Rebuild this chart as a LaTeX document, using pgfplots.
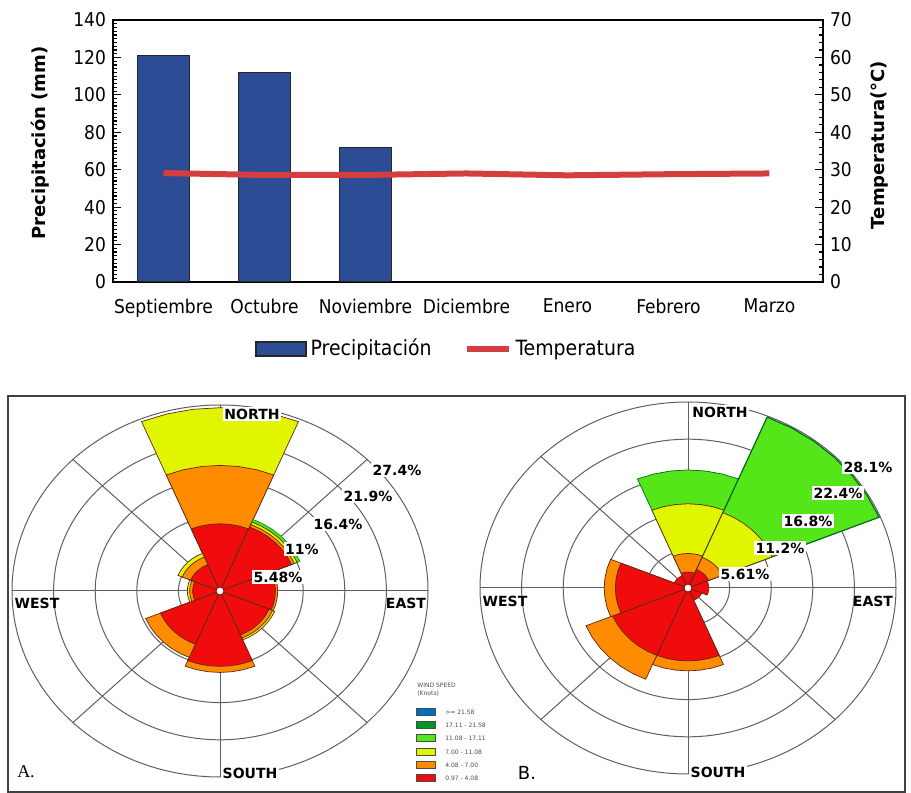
\documentclass[border=0pt]{standalone}
\usepackage{fontspec}
\setmainfont{DejaVu Sans}
\newfontfamily\cond{DejaVu Sans Condensed}
\newfontfamily\serifA{Liberation Serif}
\usepackage{pgfplots}
\pgfplotsset{compat=1.18}
\usepgfplotslibrary{polar}
\definecolor{barblue}{RGB}{44,77,150}
\definecolor{tempred}{RGB}{212,62,62}
\definecolor{wrred}{RGB}{240,12,12}
\definecolor{wrorange}{RGB}{255,140,0}
\definecolor{wryellow}{RGB}{225,245,0}
\definecolor{wrgreen}{RGB}{85,230,25}
\definecolor{wrdgreen}{RGB}{0,150,40}
\definecolor{wrblue}{RGB}{0,110,190}
\definecolor{edgec}{RGB}{95,40,20}
\definecolor{gridc}{RGB}{95,95,95}
\begin{document}
\begin{tikzpicture}[x=1pt,y=1pt]
\useasboundingbox (0,0) rectangle (455.5,396.5);

% ---------------- top chart ----------------
\begin{axis}[
  at={(56.5pt,255.5pt)}, anchor=south west, scale only axis,
  width=355pt, height=131pt,
  xmin=-0.5, xmax=6.53, ymin=0, ymax=140,
  ytick={0,20,...,140}, minor y tick num=9, ytick pos=left,
  xtick={0,...,6},
  xticklabels={Septiembre,Octubre,Noviembre,Diciembre,Enero,Febrero,Marzo},
  x tick style={draw=none},
  tick align=inside, major tick length=4pt, minor tick length=2pt,
  y tick style={black, line width=0.6pt},
  axis line style={line width=0.8pt},
  /pgf/number format/assume math mode=true,
  ticklabel style={font=\cond\fontsize{9.5}{11}\selectfont},
  xticklabel style={yshift=-5pt},
  ylabel={\bfseries Precipitación (mm)},
  ylabel style={font=\fontsize{9}{10}\selectfont, at={(axis description cs:-0.103,0.53)}, anchor=center},
  legend style={at={(0.471,-0.256)}, anchor=center, draw=none, legend columns=2,
    font=\cond\fontsize{10.5}{12}\selectfont,
    /tikz/every even column/.append style={column sep=14pt}},
]
\addplot[ybar, bar width=0.51, fill=barblue, draw=black!85, line width=0.6pt,
  legend image code/.code={\draw[fill=barblue,draw=black!85] (0pt,-3.5pt) rectangle (25pt,3.5pt);}]
  coordinates {(0,121) (1,112) (2,72)};
\addlegendentry{Precipitación}
\addlegendimage{legend image code/.code={\draw[tempred, line width=3pt] (0pt,0pt) -- (21pt,0pt);}}
\addlegendentry{Temperatura}
\end{axis}
\begin{axis}[
  at={(56.5pt,255.5pt)}, anchor=south west, scale only axis,
  width=355pt, height=131pt,
  xmin=-0.5, xmax=6.53, ymin=0, ymax=70,
  axis x line=none, axis y line*=right,
  ytick={0,10,...,70}, minor y tick num=4,
  tick align=inside, major tick length=4pt, minor tick length=2pt,
  y tick style={black, line width=0.6pt},
  axis line style={line width=0.8pt},
  /pgf/number format/assume math mode=true,
  ticklabel style={font=\cond\fontsize{9.5}{11}\selectfont},
  ylabel={\bfseries Temperatura(°C)},
  ylabel style={font=\fontsize{9}{10}\selectfont, at={(axis description cs:1.08,0.523)}, anchor=center, rotate=0},
]
\addplot[tempred, line width=3pt] coordinates {(0,29.1) (1,28.6) (2,28.6) (3,29.0) (4,28.5) (5,28.8) (6,29.0)};
\end{axis}

% ---------------- bottom frame ----------------
\draw[black!75, line width=1pt] (4,0.5) rectangle (452.5,198.5);

% grids of the two roses
\foreach \cx/\cy in {110/101, 344/102.5}{
  \foreach \k in {1,...,5}{
    \draw[gridc, line width=0.5pt] (\cx,\cy) ellipse [x radius=20.8*\k, y radius=18.6*\k];
  }
  \draw[gridc, line width=0.5pt] (\cx-104,\cy) -- (\cx+104,\cy);
  \draw[gridc, line width=0.5pt] (\cx,\cy-93) -- (\cx,\cy+93);
  \draw[gridc, line width=0.5pt] (\cx-73.54,\cy-65.76) -- (\cx+73.54,\cy+65.76);
  \draw[gridc, line width=0.5pt] (\cx-73.54,\cy+65.76) -- (\cx+73.54,\cy-65.76);
}

% ---------------- rose A ----------------
\begin{axis}[at={(110pt,101pt)}, anchor=center, x=3.7956pt, y=3.3942pt,
  hide axis, xmin=-28, xmax=28, ymin=-28, ymax=28, clip=false,
  every axis plot/.append style={data cs=polar, draw=edgec, line width=0.35pt}]
% N
\addplot[fill=wryellow] coordinates {(0,0) (67.5,27) (75,27) (82.5,27) (90,27) (97.5,27) (105,27) (112.5,27) (0,0)};
\addplot[fill=wrorange] coordinates {(0,0) (67.5,18.5) (75,18.5) (82.5,18.5) (90,18.5) (97.5,18.5) (105,18.5) (112.5,18.5) (0,0)};
\addplot[fill=wrred] coordinates {(0,0) (67.5,9.9) (75,9.9) (82.5,9.9) (90,9.9) (97.5,9.9) (105,9.9) (112.5,9.9) (0,0)};
% NE
\addplot[fill=wrgreen, draw=wrdgreen] coordinates {(0,0) (22.5,11.4) (30,11.4) (37.5,11.4) (45,11.4) (52.5,11.4) (60,11.4) (67.5,11.4) (0,0)};
\addplot[fill=wryellow] coordinates {(0,0) (22.5,11.0) (30,11.0) (37.5,11.0) (45,11.0) (52.5,11.0) (60,11.0) (67.5,11.0) (0,0)};
\addplot[fill=wrorange] coordinates {(0,0) (22.5,10.6) (30,10.6) (37.5,10.6) (45,10.6) (52.5,10.6) (60,10.6) (67.5,10.6) (0,0)};
\addplot[fill=wrred] coordinates {(0,0) (22.5,10.2) (30,10.2) (37.5,10.2) (45,10.2) (52.5,10.2) (60,10.2) (67.5,10.2) (0,0)};
% E
\addplot[fill=wrorange] coordinates {(0,0) (-22.5,7.6) (-15,7.6) (-7.5,7.6) (0,7.6) (7.5,7.6) (15,7.6) (22.5,7.6) (0,0)};
\addplot[fill=wrred] coordinates {(0,0) (-22.5,7.3) (-15,7.3) (-7.5,7.3) (0,7.3) (7.5,7.3) (15,7.3) (22.5,7.3) (0,0)};
% SE
\addplot[fill=wryellow] coordinates {(0,0) (-67.5,7.8) (-60,7.8) (-52.5,7.8) (-45,7.8) (-37.5,7.8) (-30,7.8) (-22.5,7.8) (0,0)};
\addplot[fill=wrorange] coordinates {(0,0) (-67.5,7.5) (-60,7.5) (-52.5,7.5) (-45,7.5) (-37.5,7.5) (-30,7.5) (-22.5,7.5) (0,0)};
\addplot[fill=wrred] coordinates {(0,0) (-67.5,7.0) (-60,7.0) (-52.5,7.0) (-45,7.0) (-37.5,7.0) (-30,7.0) (-22.5,7.0) (0,0)};
% S
\addplot[fill=wrorange] coordinates {(0,0) (-112.5,12.0) (-105,12.0) (-97.5,12.0) (-90,12.0) (-82.5,12.0) (-75,12.0) (-67.5,12.0) (0,0)};
\addplot[fill=wrred] coordinates {(0,0) (-112.5,11.1) (-105,11.1) (-97.5,11.1) (-90,11.1) (-82.5,11.1) (-75,11.1) (-67.5,11.1) (0,0)};
% SW
\addplot[fill=wrorange] coordinates {(0,0) (-157.5,10.6) (-150,10.6) (-142.5,10.6) (-135,10.6) (-127.5,10.6) (-120,10.6) (-112.5,10.6) (0,0)};
\addplot[fill=wrred] coordinates {(0,0) (-157.5,8.5) (-150,8.5) (-142.5,8.5) (-135,8.5) (-127.5,8.5) (-120,8.5) (-112.5,8.5) (0,0)};
% W
\addplot[fill=wryellow] coordinates {(0,0) (157.5,4.3) (165,4.3) (172.5,4.3) (180,4.3) (187.5,4.3) (195,4.3) (202.5,4.3) (0,0)};
\addplot[fill=wrorange] coordinates {(0,0) (157.5,4.0) (165,4.0) (172.5,4.0) (180,4.0) (187.5,4.0) (195,4.0) (202.5,4.0) (0,0)};
\addplot[fill=wrred] coordinates {(0,0) (157.5,3.6) (165,3.6) (172.5,3.6) (180,3.6) (187.5,3.6) (195,3.6) (202.5,3.6) (0,0)};
% NW
\addplot[fill=wryellow] coordinates {(0,0) (112.5,6.0) (120,6.0) (127.5,6.0) (135,6.0) (142.5,6.0) (150,6.0) (157.5,6.0) (0,0)};
\addplot[fill=wrorange] coordinates {(0,0) (112.5,5.4) (120,5.4) (127.5,5.4) (135,5.4) (142.5,5.4) (150,5.4) (157.5,5.4) (0,0)};
\addplot[fill=wrred] coordinates {(0,0) (112.5,4.2) (120,4.2) (127.5,4.2) (135,4.2) (142.5,4.2) (150,4.2) (157.5,4.2) (0,0)};
\end{axis}

% ---------------- rose B ----------------
\begin{axis}[at={(344pt,102.5pt)}, anchor=center, x=3.708pt, y=3.3155pt,
  hide axis, xmin=-29, xmax=29, ymin=-29, ymax=29, clip=false,
  every axis plot/.append style={data cs=polar, draw=edgec, line width=0.35pt}]
% N
\addplot[fill=wrgreen, draw=wrdgreen!70!black] coordinates {(0,0) (67.5,17.8) (75,17.8) (82.5,17.8) (90,17.8) (97.5,17.8) (105,17.8) (112.5,17.8) (0,0)};
\addplot[fill=wryellow] coordinates {(0,0) (67.5,12.7) (75,12.7) (82.5,12.7) (90,12.7) (97.5,12.7) (105,12.7) (112.5,12.7) (0,0)};
\addplot[fill=wrorange] coordinates {(0,0) (67.5,5.2) (75,5.2) (82.5,5.2) (90,5.2) (97.5,5.2) (105,5.2) (112.5,5.2) (0,0)};
\addplot[fill=wrred] coordinates {(0,0) (67.5,2.4) (75,2.4) (82.5,2.4) (90,2.4) (97.5,2.4) (105,2.4) (112.5,2.4) (0,0)};
% NE
\addplot[fill=wrgreen, draw=wrdgreen!70!black, line width=0.6pt] coordinates {(0,0) (22.5,27.9) (30,27.9) (37.5,27.9) (45,27.9) (52.5,27.9) (60,27.9) (67.5,27.9) (0,0)};
\addplot[fill=wryellow] coordinates {(0,0) (22.5,12.3) (30,12.3) (37.5,12.3) (45,12.3) (52.5,12.3) (60,12.3) (67.5,12.3) (0,0)};
\addplot[fill=wrorange] coordinates {(0,0) (22.5,5.0) (30,5.0) (37.5,5.0) (45,5.0) (52.5,5.0) (60,5.0) (67.5,5.0) (0,0)};
\addplot[fill=wrred] coordinates {(0,0) (22.5,3.0) (30,3.0) (37.5,3.0) (45,3.0) (52.5,3.0) (60,3.0) (67.5,3.0) (0,0)};
% E
\addplot[fill=wrred] coordinates {(0,0) (-22.5,2.8) (-15,2.8) (-7.5,2.8) (0,2.8) (7.5,2.8) (15,2.8) (22.5,2.8) (0,0)};
% SE
\addplot[fill=wrred] coordinates {(0,0) (-67.5,2.0) (-60,2.0) (-52.5,2.0) (-45,2.0) (-37.5,2.0) (-30,2.0) (-22.5,2.0) (0,0)};
% S
\addplot[fill=wrorange] coordinates {(0,0) (-112.5,12.5) (-105,12.5) (-97.5,12.5) (-90,12.5) (-82.5,12.5) (-75,12.5) (-67.5,12.5) (0,0)};
\addplot[fill=wrred] coordinates {(0,0) (-112.5,11.0) (-105,11.0) (-97.5,11.0) (-90,11.0) (-82.5,11.0) (-75,11.0) (-67.5,11.0) (0,0)};
% SW
\addplot[fill=wrorange] coordinates {(0,0) (-157.5,14.9) (-150,14.9) (-142.5,14.9) (-135,14.9) (-127.5,14.9) (-120,14.9) (-112.5,14.9) (0,0)};
\addplot[fill=wrred] coordinates {(0,0) (-157.5,11.0) (-150,11.0) (-142.5,11.0) (-135,11.0) (-127.5,11.0) (-120,11.0) (-112.5,11.0) (0,0)};
% W
\addplot[fill=wrorange] coordinates {(0,0) (157.5,11.3) (165,11.3) (172.5,11.3) (180,11.3) (187.5,11.3) (195,11.3) (202.5,11.3) (0,0)};
\addplot[fill=wrred] coordinates {(0,0) (157.5,9.8) (165,9.8) (172.5,9.8) (180,9.8) (187.5,9.8) (195,9.8) (202.5,9.8) (0,0)};
% NW
\addplot[fill=wrred] coordinates {(0,0) (112.5,2.0) (120,2.0) (127.5,2.0) (135,2.0) (142.5,2.0) (150,2.0) (157.5,2.0) (0,0)};
\end{axis}

% centre (calm) circles
\draw[fill=white, draw=red!50!black, line width=0.4pt] (110,101) circle (2pt);
\draw[fill=white, draw=red!50!black, line width=0.4pt] (344,102.5) circle (2pt);

% labels of rose A
\begin{scope}[every node/.style={font=\bfseries\fontsize{7}{8}\selectfont, inner sep=0.8pt}]
\node[fill=white] at (126,189.5) {NORTH};
\node at (203,95) {EAST};
\node at (18.5,95) {WEST};
\node[fill=white] at (125,10) {SOUTH};
\node[fill=white] at (198.5,161.5) {27.4\%};
\node[fill=white] at (184,148.5) {21.9\%};
\node[fill=white] at (169,134.5) {16.4\%};
\node[fill=white] at (151,122) {11\%};
\node[fill=white] at (139,108) {5.48\%};
% labels of rose B
\node[fill=white] at (360,190.5) {NORTH};
\node at (436.5,96) {EAST};
\node at (252.5,96) {WEST};
\node[fill=white] at (359,10.5) {SOUTH};
\node[fill=white] at (434,163) {28.1\%};
\node[fill=white] at (419,150) {22.4\%};
\node[fill=white] at (404,136) {16.8\%};
\node[fill=white] at (390,122.5) {11.2\%};
\node[fill=white] at (372.5,109.5) {5.61\%};
\end{scope}
\node[font=\serifA\fontsize{9}{10}\selectfont] at (13,10.5) {A.};
\node[font=\fontsize{9}{10}\selectfont] at (263.5,10) {B.};

% wind speed legend
\begin{scope}[every node/.style={font=\fontsize{3}{3.5}\selectfont, text=black!70, inner sep=0pt, anchor=west}]
\node at (208.5,54) {WIND SPEED};
\node at (208.5,49.5) {(Knots)};
\foreach \yy/\cc/\tt in {40.5/wrblue/{>= 21.58}, 34/wrdgreen/{17.11 - 21.58}, 27.5/wrgreen/{11.08 - 17.11}, 20.5/wryellow/{7.00 - 11.08}, 14/wrorange/{4.08 - 7.00}, 7.5/wrred/{0.97 - 4.08}}{
  \draw[fill=\cc, draw=black!70, line width=0.3pt] (208,\yy-1.7) rectangle (217.5,\yy+1.7);
  \node at (222.5,\yy) {\tt};
}
\end{scope}
\end{tikzpicture}
\end{document}
